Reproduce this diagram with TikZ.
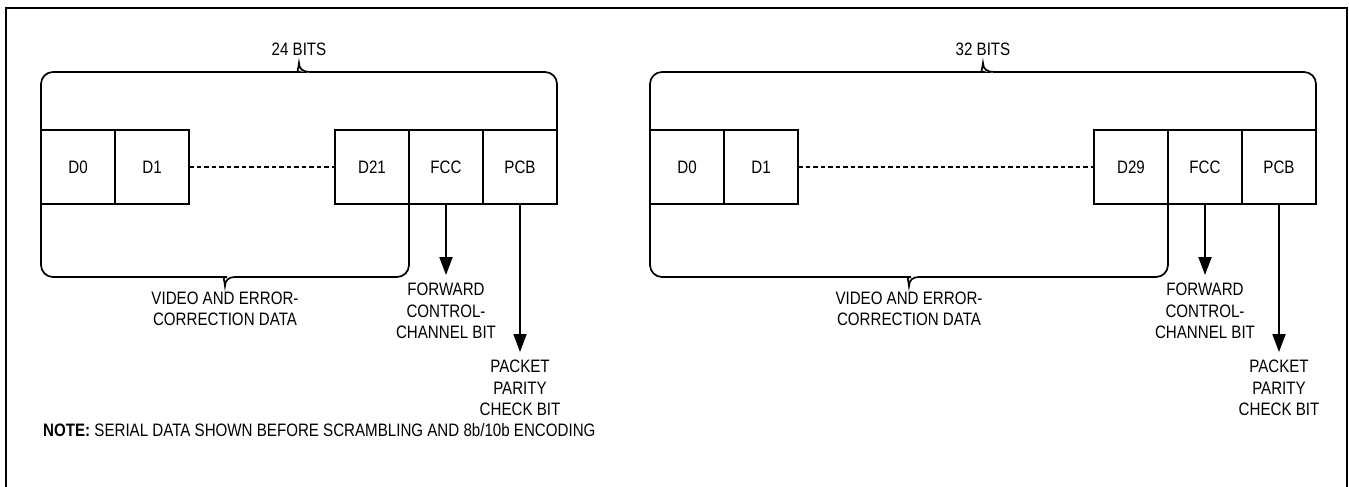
\documentclass[tikz,border=0pt]{standalone}
\usepackage{fontspec}
\setmainfont{Liberation Sans}[FakeStretch=0.84]
\usetikzlibrary{positioning,arrows.meta}

\begin{document}
\begin{tikzpicture}[x=1pt, y=-1pt, font=\fontsize{18}{21.5}\selectfont,
  cell/.style = {draw, line width=1.3pt, minimum width=74pt, minimum height=74pt, inner sep=0pt, outer sep=0pt},
  brace/.style = {line width=1.7pt},
  arr/.style = {line width=2pt, -{Triangle[length=18pt, width=13pt]}},
  dots/.style = {line width=2.4pt, dash pattern=on 4.5pt off 3pt},
  txt/.style = {align=center, inner sep=0pt, inner ysep=8pt}]
\useasboundingbox (0,0) rectangle (1349,487);
\draw[line width=2pt] (6,487) -- (6,8) -- (1347,8) -- (1347,487);
\foreach \s/\x/\g/\last/\bits/\tc/\bc in {l/41/146/21/24/299/225, r/650/296/29/32/983/909} {
  \node[cell] (\s-0) at (\x+37,167) {D0};
  \node[cell, right=0pt of \s-0] (\s-1) {D1};
  \node[cell, right=\g pt of \s-1] (\s-d) {D\last};
  \node[cell, right=0pt of \s-d] (\s-fcc) {FCC};
  \node[cell, right=0pt of \s-fcc] (\s-pcb) {PCB};
  \draw[dots] (\s-1) -- (\s-d);
  \draw[brace, rounded corners=12pt] (\s-0.north west) |- (\tc-11,72) [sharp corners]
    .. controls (\tc-4,72) and (\tc,69) .. (\tc,63) .. controls (\tc,69) and (\tc+4,72) .. (\tc+11,72)
    [rounded corners=12pt] -| (\s-pcb.north east);
  \draw[brace, rounded corners=12pt] (\s-0.south west) |- (\bc-10,277) [sharp corners]
    .. controls (\bc-4,277) and (\bc,280) .. (\bc,286) .. controls (\bc,280) and (\bc+4,277) .. (\bc+10,277)
    [rounded corners=12pt] -| (\s-fcc.south west);
  \node (\s-top) at (\tc,49) {\bits\ BITS};
  \node[align=center] (\s-bot) at (\bc,309) {VIDEO AND ERROR-\\CORRECTION DATA};
  \node[txt, below=71pt of \s-fcc] (\s-ft) {FORWARD\\CONTROL-\\CHANNEL BIT};
  \node[txt, below=148pt of \s-pcb] (\s-pt) {PACKET\\PARITY\\CHECK BIT};
  \draw[arr] (\s-fcc) -- (\s-ft);
  \draw[arr] (\s-pcb) -- (\s-pt);
}
\node[anchor=base west, inner sep=0pt] (note) at (43,436) {\textbf{NOTE:} SERIAL DATA SHOWN BEFORE SCRAMBLING AND 8b/10b ENCODING};
\end{tikzpicture}
\end{document}
